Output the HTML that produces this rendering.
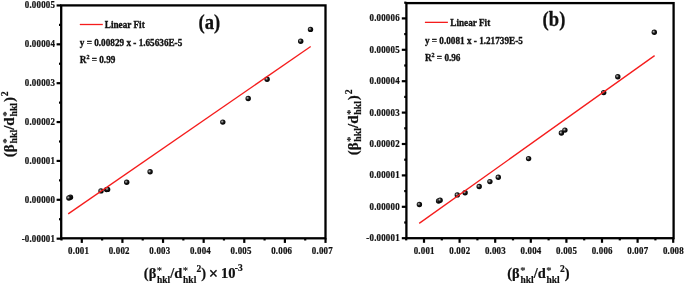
<!DOCTYPE html>
<html><head><meta charset="utf-8"><title>Williamson-Hall plots</title><style>
html,body{margin:0;padding:0;background:#fff;}
body{width:685px;height:284px;overflow:hidden;}
svg{display:block;}
text{font-family:'Liberation Serif', 'Times New Roman', serif;font-weight:bold;fill:#000;}
.tk{font-size:8.9px;fill:#111;stroke:#111;stroke-width:0.2px;letter-spacing:0.2px;}
.lg{font-size:9.2px;fill:#111;stroke:#111;stroke-width:0.3px;}
.big{font-size:18.6px;fill:#111;stroke:#111;stroke-width:0.25px;}
.ax{font-size:14.5px;fill:#111;stroke:#111;stroke-width:0.2px;}
.sb{font-size:9.5px;}
.as{font-weight:normal;stroke-width:0.15px;font-size:10.5px;}
</style></head>
<body>
<svg width="685" height="284" viewBox="0 0 685 284">
<defs><radialGradient id="ball" cx="0.42" cy="0.42" r="0.62" fx="0.37" fy="0.39"><stop offset="0" stop-color="#d0d0d0"/><stop offset="0.2" stop-color="#7a7a7a"/><stop offset="0.5" stop-color="#141414"/><stop offset="1" stop-color="#000"/></radialGradient></defs>
<rect width="685" height="284" fill="#fff"/>
<line x1="56.6" y1="238.67" x2="61.2" y2="238.67" stroke="#000" stroke-width="2.2"/>
<text transform="translate(55.1,241.57) scale(1,1.17)" text-anchor="end" class="tk">-0.00001</text>
<line x1="56.6" y1="199.8" x2="61.2" y2="199.8" stroke="#000" stroke-width="2.2"/>
<text transform="translate(55.1,202.7) scale(1,1.17)" text-anchor="end" class="tk">0.00000</text>
<line x1="56.6" y1="160.93" x2="61.2" y2="160.93" stroke="#000" stroke-width="2.2"/>
<text transform="translate(55.1,163.83) scale(1,1.17)" text-anchor="end" class="tk">0.00001</text>
<line x1="56.6" y1="122.06" x2="61.2" y2="122.06" stroke="#000" stroke-width="2.2"/>
<text transform="translate(55.1,124.96) scale(1,1.17)" text-anchor="end" class="tk">0.00002</text>
<line x1="56.6" y1="83.19" x2="61.2" y2="83.19" stroke="#000" stroke-width="2.2"/>
<text transform="translate(55.1,86.09) scale(1,1.17)" text-anchor="end" class="tk">0.00003</text>
<line x1="56.6" y1="44.32" x2="61.2" y2="44.32" stroke="#000" stroke-width="2.2"/>
<text transform="translate(55.1,47.22) scale(1,1.17)" text-anchor="end" class="tk">0.00004</text>
<line x1="56.6" y1="5.45" x2="61.2" y2="5.45" stroke="#000" stroke-width="2.2"/>
<text transform="translate(55.1,8.35) scale(1,1.17)" text-anchor="end" class="tk">0.00005</text>
<line x1="59" y1="219.24" x2="61.2" y2="219.24" stroke="#000" stroke-width="2.2"/>
<line x1="59" y1="180.37" x2="61.2" y2="180.37" stroke="#000" stroke-width="2.2"/>
<line x1="59" y1="141.5" x2="61.2" y2="141.5" stroke="#000" stroke-width="2.2"/>
<line x1="59" y1="102.62" x2="61.2" y2="102.62" stroke="#000" stroke-width="2.2"/>
<line x1="59" y1="63.76" x2="61.2" y2="63.76" stroke="#000" stroke-width="2.2"/>
<line x1="59" y1="24.88" x2="61.2" y2="24.88" stroke="#000" stroke-width="2.2"/>
<line x1="81.8" y1="238.3" x2="81.8" y2="242.9" stroke="#000" stroke-width="2.2"/>
<text transform="translate(78.6,254) scale(1,1.17)" text-anchor="middle" class="tk">0.001</text>
<line x1="122.42" y1="238.3" x2="122.42" y2="242.9" stroke="#000" stroke-width="2.2"/>
<text transform="translate(119.22,254) scale(1,1.17)" text-anchor="middle" class="tk">0.002</text>
<line x1="163.04" y1="238.3" x2="163.04" y2="242.9" stroke="#000" stroke-width="2.2"/>
<text transform="translate(159.84,254) scale(1,1.17)" text-anchor="middle" class="tk">0.003</text>
<line x1="203.66" y1="238.3" x2="203.66" y2="242.9" stroke="#000" stroke-width="2.2"/>
<text transform="translate(200.46,254) scale(1,1.17)" text-anchor="middle" class="tk">0.004</text>
<line x1="244.28" y1="238.3" x2="244.28" y2="242.9" stroke="#000" stroke-width="2.2"/>
<text transform="translate(241.08,254) scale(1,1.17)" text-anchor="middle" class="tk">0.005</text>
<line x1="284.9" y1="238.3" x2="284.9" y2="242.9" stroke="#000" stroke-width="2.2"/>
<text transform="translate(281.7,254) scale(1,1.17)" text-anchor="middle" class="tk">0.006</text>
<line x1="325.52" y1="238.3" x2="325.52" y2="242.9" stroke="#000" stroke-width="2.2"/>
<text transform="translate(322.32,254) scale(1,1.17)" text-anchor="middle" class="tk">0.007</text>
<line x1="61.49" y1="238.3" x2="61.49" y2="240.5" stroke="#000" stroke-width="2.2"/>
<line x1="102.11" y1="238.3" x2="102.11" y2="240.5" stroke="#000" stroke-width="2.2"/>
<line x1="142.73" y1="238.3" x2="142.73" y2="240.5" stroke="#000" stroke-width="2.2"/>
<line x1="183.35" y1="238.3" x2="183.35" y2="240.5" stroke="#000" stroke-width="2.2"/>
<line x1="223.97" y1="238.3" x2="223.97" y2="240.5" stroke="#000" stroke-width="2.2"/>
<line x1="264.59" y1="238.3" x2="264.59" y2="240.5" stroke="#000" stroke-width="2.2"/>
<line x1="305.21" y1="238.3" x2="305.21" y2="240.5" stroke="#000" stroke-width="2.2"/>
<rect x="61.2" y="5.4" width="264.3" height="232.9" fill="none" stroke="#000" stroke-width="2.3"/>
<circle cx="70.5" cy="197.2" r="2.7" fill="url(#ball)"/>
<circle cx="68.9" cy="198" r="2.7" fill="url(#ball)"/>
<circle cx="101" cy="190.9" r="2.7" fill="url(#ball)"/>
<circle cx="106.6" cy="189.6" r="2.7" fill="url(#ball)"/>
<circle cx="107.6" cy="189.4" r="2.7" fill="url(#ball)"/>
<circle cx="126.7" cy="182.3" r="2.7" fill="url(#ball)"/>
<circle cx="150.1" cy="171.8" r="2.7" fill="url(#ball)"/>
<circle cx="222.8" cy="122.1" r="2.7" fill="url(#ball)"/>
<circle cx="248.2" cy="98.5" r="2.7" fill="url(#ball)"/>
<circle cx="267.1" cy="79.3" r="2.7" fill="url(#ball)"/>
<circle cx="300.7" cy="41.2" r="2.7" fill="url(#ball)"/>
<circle cx="310.5" cy="29.4" r="2.7" fill="url(#ball)"/>
<line x1="68.2" y1="213.9" x2="310.7" y2="46.5" stroke="#f51c1c" stroke-width="1.3"/>
<line x1="401.8" y1="238.2" x2="406.4" y2="238.2" stroke="#000" stroke-width="2.2"/>
<text transform="translate(399.8,241.1) scale(1,1.17)" text-anchor="end" class="tk">-0.00001</text>
<line x1="401.8" y1="206.8" x2="406.4" y2="206.8" stroke="#000" stroke-width="2.2"/>
<text transform="translate(399.8,209.7) scale(1,1.17)" text-anchor="end" class="tk">0.00000</text>
<line x1="401.8" y1="175.4" x2="406.4" y2="175.4" stroke="#000" stroke-width="2.2"/>
<text transform="translate(399.8,178.3) scale(1,1.17)" text-anchor="end" class="tk">0.00001</text>
<line x1="401.8" y1="144" x2="406.4" y2="144" stroke="#000" stroke-width="2.2"/>
<text transform="translate(399.8,146.9) scale(1,1.17)" text-anchor="end" class="tk">0.00002</text>
<line x1="401.8" y1="112.6" x2="406.4" y2="112.6" stroke="#000" stroke-width="2.2"/>
<text transform="translate(399.8,115.5) scale(1,1.17)" text-anchor="end" class="tk">0.00003</text>
<line x1="401.8" y1="81.2" x2="406.4" y2="81.2" stroke="#000" stroke-width="2.2"/>
<text transform="translate(399.8,84.1) scale(1,1.17)" text-anchor="end" class="tk">0.00004</text>
<line x1="401.8" y1="49.8" x2="406.4" y2="49.8" stroke="#000" stroke-width="2.2"/>
<text transform="translate(399.8,52.7) scale(1,1.17)" text-anchor="end" class="tk">0.00005</text>
<line x1="401.8" y1="18.4" x2="406.4" y2="18.4" stroke="#000" stroke-width="2.2"/>
<text transform="translate(399.8,21.3) scale(1,1.17)" text-anchor="end" class="tk">0.00006</text>
<line x1="404.2" y1="222.5" x2="406.4" y2="222.5" stroke="#000" stroke-width="2.2"/>
<line x1="404.2" y1="191.1" x2="406.4" y2="191.1" stroke="#000" stroke-width="2.2"/>
<line x1="404.2" y1="159.7" x2="406.4" y2="159.7" stroke="#000" stroke-width="2.2"/>
<line x1="404.2" y1="128.3" x2="406.4" y2="128.3" stroke="#000" stroke-width="2.2"/>
<line x1="404.2" y1="96.9" x2="406.4" y2="96.9" stroke="#000" stroke-width="2.2"/>
<line x1="404.2" y1="65.5" x2="406.4" y2="65.5" stroke="#000" stroke-width="2.2"/>
<line x1="404.2" y1="34.1" x2="406.4" y2="34.1" stroke="#000" stroke-width="2.2"/>
<line x1="404.2" y1="2.7" x2="406.4" y2="2.7" stroke="#000" stroke-width="2.2"/>
<line x1="424" y1="238.2" x2="424" y2="242.8" stroke="#000" stroke-width="2.2"/>
<text transform="translate(424.2,254) scale(1,1.17)" text-anchor="middle" class="tk">0.001</text>
<line x1="459.6" y1="238.2" x2="459.6" y2="242.8" stroke="#000" stroke-width="2.2"/>
<text transform="translate(459.8,254) scale(1,1.17)" text-anchor="middle" class="tk">0.002</text>
<line x1="495.2" y1="238.2" x2="495.2" y2="242.8" stroke="#000" stroke-width="2.2"/>
<text transform="translate(495.4,254) scale(1,1.17)" text-anchor="middle" class="tk">0.003</text>
<line x1="530.8" y1="238.2" x2="530.8" y2="242.8" stroke="#000" stroke-width="2.2"/>
<text transform="translate(531,254) scale(1,1.17)" text-anchor="middle" class="tk">0.004</text>
<line x1="566.4" y1="238.2" x2="566.4" y2="242.8" stroke="#000" stroke-width="2.2"/>
<text transform="translate(566.6,254) scale(1,1.17)" text-anchor="middle" class="tk">0.005</text>
<line x1="602" y1="238.2" x2="602" y2="242.8" stroke="#000" stroke-width="2.2"/>
<text transform="translate(602.2,254) scale(1,1.17)" text-anchor="middle" class="tk">0.006</text>
<line x1="637.6" y1="238.2" x2="637.6" y2="242.8" stroke="#000" stroke-width="2.2"/>
<text transform="translate(637.8,254) scale(1,1.17)" text-anchor="middle" class="tk">0.007</text>
<line x1="673.2" y1="238.2" x2="673.2" y2="242.8" stroke="#000" stroke-width="2.2"/>
<text transform="translate(673.4,254) scale(1,1.17)" text-anchor="middle" class="tk">0.008</text>
<line x1="406.2" y1="238.2" x2="406.2" y2="240.4" stroke="#000" stroke-width="2.2"/>
<line x1="441.8" y1="238.2" x2="441.8" y2="240.4" stroke="#000" stroke-width="2.2"/>
<line x1="477.4" y1="238.2" x2="477.4" y2="240.4" stroke="#000" stroke-width="2.2"/>
<line x1="513" y1="238.2" x2="513" y2="240.4" stroke="#000" stroke-width="2.2"/>
<line x1="548.6" y1="238.2" x2="548.6" y2="240.4" stroke="#000" stroke-width="2.2"/>
<line x1="584.2" y1="238.2" x2="584.2" y2="240.4" stroke="#000" stroke-width="2.2"/>
<line x1="619.8" y1="238.2" x2="619.8" y2="240.4" stroke="#000" stroke-width="2.2"/>
<line x1="655.4" y1="238.2" x2="655.4" y2="240.4" stroke="#000" stroke-width="2.2"/>
<rect x="406.4" y="3.1" width="267.2" height="235.1" fill="none" stroke="#000" stroke-width="2.3"/>
<circle cx="419.4" cy="204.5" r="2.7" fill="url(#ball)"/>
<circle cx="438.6" cy="201" r="2.7" fill="url(#ball)"/>
<circle cx="440.1" cy="200.2" r="2.7" fill="url(#ball)"/>
<circle cx="457.3" cy="194.9" r="2.7" fill="url(#ball)"/>
<circle cx="465.1" cy="192.7" r="2.7" fill="url(#ball)"/>
<circle cx="479.2" cy="186.5" r="2.7" fill="url(#ball)"/>
<circle cx="489.9" cy="181.6" r="2.7" fill="url(#ball)"/>
<circle cx="498.3" cy="177.3" r="2.7" fill="url(#ball)"/>
<circle cx="528.6" cy="158.6" r="2.7" fill="url(#ball)"/>
<circle cx="561.4" cy="133" r="2.7" fill="url(#ball)"/>
<circle cx="564.9" cy="130.1" r="2.7" fill="url(#ball)"/>
<circle cx="603.7" cy="92.6" r="2.7" fill="url(#ball)"/>
<circle cx="617.8" cy="76.7" r="2.7" fill="url(#ball)"/>
<circle cx="654.3" cy="32.3" r="2.7" fill="url(#ball)"/>
<line x1="419.2" y1="223.4" x2="654.6" y2="55.6" stroke="#f51c1c" stroke-width="1.3"/>
<line x1="79.8" y1="24.5" x2="102.8" y2="24.5" stroke="#f51c1c" stroke-width="1.3"/>
<text transform="translate(104.8,27.8) scale(1,1.17)" class="lg">Linear Fit</text>
<text transform="translate(79.8,45.7) scale(1,1.17)" class="lg">y = 0.00829 x - 1.65636E-5</text>
<text transform="translate(79.8,63.2) scale(1,1.17)" class="lg">R<tspan dy="-3.3" font-size="6">2</tspan><tspan dy="3.3"> = 0.99</tspan></text>
<line x1="424.9" y1="22.35" x2="447.9" y2="22.35" stroke="#f51c1c" stroke-width="1.3"/>
<text transform="translate(450.3,25.6) scale(1,1.17)" class="lg">Linear Fit</text>
<text transform="translate(424.9,43.8) scale(1,1.17)" class="lg">y = 0.0081 x - 1.21739E-5</text>
<text transform="translate(424.9,61.3) scale(1,1.17)" class="lg">R<tspan dy="-3.3" font-size="6">2</tspan><tspan dy="3.3"> = 0.96</tspan></text>
<text transform="translate(198.6,28.8) scale(1,1.08)" class="big">(a)</text>
<text transform="translate(542.6,25.8) scale(1,1.08)" class="big">(b)</text>
<text transform="translate(143.8,278.2) scale(1,1.0)" class="ax">(β<tspan class="sb as" dy="-4.0" dx="0.5">*</tspan><tspan class="sb" dx="-5.0" dy="8.4">hkl</tspan><tspan dy="-4.4">/d</tspan><tspan class="sb as" dy="-4.0" dx="0.5">*</tspan><tspan class="sb" dx="-5.0" dy="8.4">hkl</tspan><tspan class="sb" dy="-11.0" dx="0.2">2</tspan><tspan dy="6.6">)</tspan><tspan> </tspan><tspan font-size="16.5" dy="0.6" dx="-1">×</tspan><tspan dy="-0.6" dx="-0.8"> 10</tspan><tspan class="sb" dy="-7.0" dx="-0.7">-3</tspan></text>
<text transform="translate(507.2,278.2) scale(1,1.0)" class="ax">(β<tspan class="sb as" dy="-4.0" dx="0.5">*</tspan><tspan class="sb" dx="-5.0" dy="8.4">hkl</tspan><tspan dy="-4.4">/d</tspan><tspan class="sb as" dy="-4.0" dx="0.5">*</tspan><tspan class="sb" dx="-5.0" dy="8.4">hkl</tspan><tspan class="sb" dy="-11.0" dx="0.2">2</tspan><tspan dy="6.6">)</tspan></text>
<text transform="translate(13.8,157.2) rotate(-90) scale(1.035,1)" class="ax">(β<tspan class="sb as" dy="-4.0" dx="0.5">*</tspan><tspan class="sb" dx="-5.0" dy="7.5">hkl</tspan><tspan dy="-3.5">/d</tspan><tspan class="sb as" dy="-4.0" dx="0.5">*</tspan><tspan class="sb" dx="-5.0" dy="7.5">hkl</tspan><tspan dy="-3.5" dx="0.8">)</tspan><tspan class="sb" dy="-5.8" dx="0.9">2</tspan></text>
<text transform="translate(357.8,155.3) rotate(-90) scale(1.035,1)" class="ax">(β<tspan class="sb as" dy="-4.0" dx="0.5">*</tspan><tspan class="sb" dx="-5.0" dy="7.5">hkl</tspan><tspan dy="-3.5">/d</tspan><tspan class="sb as" dy="-4.0" dx="0.5">*</tspan><tspan class="sb" dx="-5.0" dy="7.5">hkl</tspan><tspan dy="-3.5" dx="0.8">)</tspan><tspan class="sb" dy="-5.8" dx="0.9">2</tspan></text>
</svg>
</body></html>
